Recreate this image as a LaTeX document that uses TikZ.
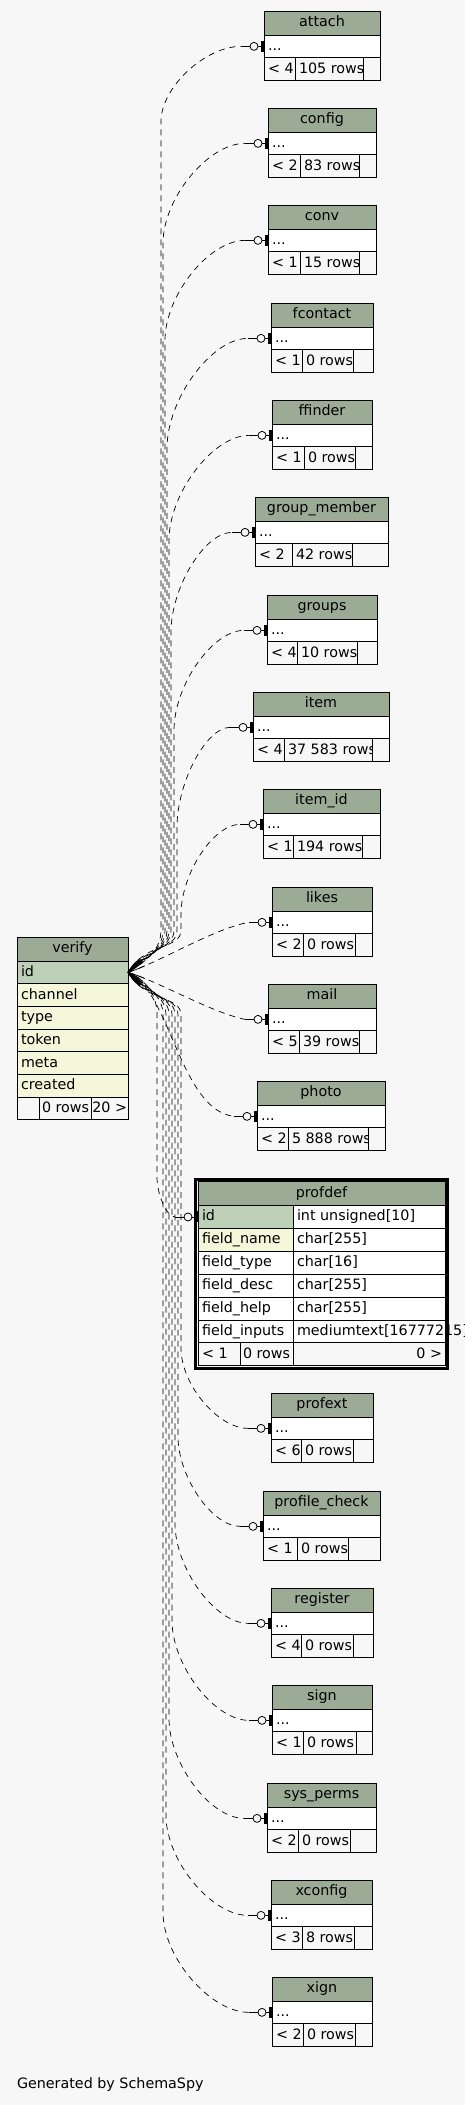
\documentclass[tikz,border=0pt]{standalone}
\usepackage{fontspec}
\setmainfont{DejaVu Sans}
\usetikzlibrary{calc}
\definecolor{bgcol}{HTML}{F7F7F7}
\definecolor{headcol}{HTML}{9BAB96}
\definecolor{keycol}{HTML}{BED1B8}
\definecolor{idxcol}{HTML}{F4F7DA}
\tikzstyle{tcell} = [draw, rectangle, line width=0.9pt, inner sep=0pt, outer sep=0pt, minimum height=22.7pt, anchor=north west]
\tikzstyle{headcell} = [tcell, fill=headcol, minimum height=24pt]
\tikzstyle{fieldcell} = [tcell, fill=white]
\tikzstyle{footcell} = [tcell, fill=bgcol]
\tikzstyle{txt} = [inner sep=0pt, outer sep=0pt, anchor=base west, font=\fontsize{14.3}{16}\selectfont]
\tikzstyle{rel} = [line width=0.7pt, dash pattern=on 6pt off 5pt]

% #1 name, #2 title, #3 left, #4 top, #5 right, #6 #7 footer splits, #8 #9 footer texts
\newcommand{\smalltable}[9]{%
  \node[headcell, minimum width={(#5-#3)*1pt}] (#1) at (#3,#4) {};
  \node[txt, anchor=base] (#1t) at ($(#1.center)+(0,3.5)$) {#2};
  \node[fieldcell, minimum width={(#5-#3)*1pt}] (#1r) at (#3,#4+24) {};
  \node[txt] (#1rt) at ($(#1r.west)+(4,4)$) {...};
  \node[footcell, minimum width={(#6-#3)*1pt}] (#1a) at (#3,#4+46.7) {};
  \node[footcell, minimum width={(#7-#6)*1pt}] (#1b) at (#6,#4+46.7) {};
  \node[footcell, minimum width={(#5-#7)*1pt}] (#1c) at (#7,#4+46.7) {};
  \begin{scope}
    \clip (#1a.south west) rectangle (#1a.north east);
    \node[txt] (#1at) at ($(#1a.west)+(4,4)$) {#8};
  \end{scope}
  \begin{scope}
    \clip (#1b.south west) rectangle (#1b.north east);
    \node[txt] (#1bt) at ($(#1b.west)+(4,4)$) {#9};
  \end{scope}}

% circle and bar where a link meets its table
\newcommand{\linkmark}[1]{%
  \draw[line width=0.8pt] (#1e) -- ($(#1r.west)+(-3,0)$);
  \draw[line width=0.8pt, fill=bgcol] ($(#1r.west)+(-10,0)$) circle (4pt);
  \fill ($(#1r.west)+(-3,-5.5)$) rectangle ($(#1r.west)+(0,5.5)$);}

% #1 table, #2 x of the long run, #3 height of the last bend, #4 style
\newcommand{\uppath}[4]{\draw[#4] (vid.east) .. controls +(18,150-#2) and (#2,950) .. (#2,930) -- ($(#2,0 |- #1e)+(0,#3)$) .. controls +(0,-0.45*#3) and ($(#1e)!0.45!(#2,0 |- #1e)$) .. (#1e);}
\newcommand{\downpath}[4]{\draw[#4] (vid.east) .. controls +(18,#2-150) and (#2,995) .. (#2,1015) -- ($(#2,0 |- #1e)+(0,-#3)$) .. controls +(0,0.45*#3) and ($(#1e)!0.45!(#2,0 |- #1e)$) .. (#1e);}
\newcommand{\midpath}[4]{\draw[#4] (vid.east) .. controls (#2) and (#3) .. (#1e);}

\newcommand{\uprel}[3]{%
  \coordinate (#1e) at ($(#1r.west)+(-23,0)$);
  \uppath{#1}{#2}{#3}{rel, dash phase={#2pt}}
  \begin{scope}
    \clip (vid.east) circle (18pt);
    \uppath{#1}{#2}{#3}{line width=0.7pt}
  \end{scope}
  \linkmark{#1}}
\newcommand{\downrel}[3]{%
  \coordinate (#1e) at ($(#1r.west)+(-23,0)$);
  \downpath{#1}{#2}{#3}{rel, dash phase={#2pt}}
  \begin{scope}
    \clip (vid.east) circle (18pt);
    \downpath{#1}{#2}{#3}{line width=0.7pt}
  \end{scope}
  \linkmark{#1}}
\newcommand{\midrel}[3]{%
  \coordinate (#1e) at ($(#1r.west)+(-23,0)$);
  \midpath{#1}{#2}{#3}{rel}
  \begin{scope}
    \clip (vid.east) circle (18pt);
    \midpath{#1}{#2}{#3}{line width=0.7pt}
  \end{scope}
  \linkmark{#1}}

\begin{document}
\begin{tikzpicture}[x=1pt,y=-1pt]
    \useasboundingbox (0,0) rectangle (465,2105);
    \fill[bgcol] (0,0) rectangle (465,2105);

    % verify
    \node[headcell, minimum width=111pt] (verify) at (17,937) {};
    \node[txt, anchor=base] (verifyt) at ($(verify.center)+(0,3.5)$) {verify};
    \node[fieldcell, fill=keycol, minimum width=111pt] (vid) at (17,961) {};
    \node[fieldcell, fill=idxcol, minimum width=111pt] (vchannel) at (17,983.7) {};
    \node[fieldcell, fill=idxcol, minimum width=111pt] (vtype) at (17,1006.4) {};
    \node[fieldcell, fill=idxcol, minimum width=111pt] (vtoken) at (17,1029.1) {};
    \node[fieldcell, fill=idxcol, minimum width=111pt] (vmeta) at (17,1051.8) {};
    \node[fieldcell, fill=idxcol, minimum width=111pt] (vcreated) at (17,1074.5) {};
    \node[footcell, minimum width=22pt] (vfa) at (17,1097.2) {};
    \node[footcell, minimum width=52pt] (vfb) at (39,1097.2) {};
    \node[footcell, minimum width=37pt] (vfc) at (91,1097.2) {};
    \node[txt] (vidt) at ($(vid.west)+(4,4)$) {id};
    \node[txt] (vchannelt) at ($(vchannel.west)+(4,4)$) {channel};
    \node[txt] (vtypet) at ($(vtype.west)+(4,4)$) {type};
    \node[txt] (vtokent) at ($(vtoken.west)+(4,4)$) {token};
    \node[txt] (vmetat) at ($(vmeta.west)+(4,4)$) {meta};
    \node[txt] (vcreatedt) at ($(vcreated.west)+(4,4)$) {created};
    \node[txt] (vfbt) at ($(vfb.west)+(3,4)$) {0 rows};
    \node[txt, anchor=base east] (vfct) at ($(vfc.east)+(-1,4)$) {20 >};

    % profdef
    \node[headcell, minimum width=247pt] (profdef) at (198,1181.5) {};
    \node[txt, anchor=base] (profdeft) at ($(profdef.center)+(0,3.5)$) {profdef};
    \node[fieldcell, fill=keycol, minimum width=95pt, minimum height=22.9pt] (profdefr) at (198,1205.5) {};
    \node[fieldcell, fill=idxcol, minimum width=95pt, minimum height=22.9pt] (pname) at (198,1228.4) {};
    \node[fieldcell, minimum width=95pt, minimum height=22.9pt] (ptype) at (198,1251.3) {};
    \node[fieldcell, minimum width=95pt, minimum height=22.9pt] (pdesc) at (198,1274.2) {};
    \node[fieldcell, minimum width=95pt, minimum height=22.9pt] (phelp) at (198,1297.1) {};
    \node[fieldcell, minimum width=95pt, minimum height=22.9pt] (pinputs) at (198,1320) {};
    \node[fieldcell, minimum width=152pt, minimum height=22.9pt] (pidv) at (293,1205.5) {};
    \node[fieldcell, minimum width=152pt, minimum height=22.9pt] (pnamev) at (293,1228.4) {};
    \node[fieldcell, minimum width=152pt, minimum height=22.9pt] (ptypev) at (293,1251.3) {};
    \node[fieldcell, minimum width=152pt, minimum height=22.9pt] (pdescv) at (293,1274.2) {};
    \node[fieldcell, minimum width=152pt, minimum height=22.9pt] (phelpv) at (293,1297.1) {};
    \node[fieldcell, minimum width=152pt, minimum height=22.9pt] (pinputsv) at (293,1320) {};
    \node[footcell, minimum width=42pt, minimum height=22.9pt] (pfa) at (198,1342.9) {};
    \node[footcell, minimum width=53pt, minimum height=22.9pt] (pfb) at (240,1342.9) {};
    \node[footcell, minimum width=152pt, minimum height=22.9pt] (pfc) at (293,1342.9) {};
    \node[txt] (pidt) at ($(profdefr.west)+(4,4)$) {id};
    \node[txt] (pnamet) at ($(pname.west)+(4,4)$) {field\_name};
    \node[txt] (ptypet) at ($(ptype.west)+(4,4)$) {field\_type};
    \node[txt] (pdesct) at ($(pdesc.west)+(4,4)$) {field\_desc};
    \node[txt] (phelpt) at ($(phelp.west)+(4,4)$) {field\_help};
    \node[txt] (pinputst) at ($(pinputs.west)+(4,4)$) {field\_inputs};
    \node[txt] (pidvt) at ($(pidv.west)+(4,4)$) {int unsigned[10]};
    \node[txt] (pnamevt) at ($(pnamev.west)+(4,4)$) {char[255]};
    \node[txt] (ptypevt) at ($(ptypev.west)+(4,4)$) {char[16]};
    \node[txt] (pdescvt) at ($(pdescv.west)+(4,4)$) {char[255]};
    \node[txt] (phelpvt) at ($(phelpv.west)+(4,4)$) {char[255]};
    \node[txt] (pinputsvt) at ($(pinputsv.west)+(4,4)$) {mediumtext[16777215]};
    \node[txt] (pfat) at ($(pfa.west)+(4,4)$) {< 1};
    \node[txt] (pfbt) at ($(pfb.west)+(3,4)$) {0 rows};
    \node[txt, anchor=base east] (pfct) at ($(pfc.east)+(-3,4)$) {0 >};
    \draw[line width=2.6pt] (195.6,1179.6) rectangle (447.6,1368.2);

    % tables above
    \smalltable{attach}{attach}{264}{11}{380}{295}{363}{< 4}{105 rows}
    \smalltable{config}{config}{268}{108}{376}{300}{359}{< 2}{83 rows}
    \smalltable{conv}{conv}{268}{205}{376}{300}{359}{< 1}{15 rows}
    \smalltable{fcontact}{fcontact}{271}{303}{373}{302}{353}{< 1}{0 rows}
    \smalltable{ffinder}{ffinder}{272}{400}{372}{304}{355}{< 1}{0 rows}
    \smalltable{grpmember}{group\_member}{255}{497}{388}{292}{352}{< 2}{42 rows}
    \smalltable{groups}{groups}{267}{595}{377}{297}{357}{< 4}{10 rows}
    \smalltable{item}{item}{253}{692}{389}{284}{372}{< 4}{37 583 rows}
    \smalltable{itemid}{item\_id}{263}{789}{380}{293}{362}{< 1}{194 rows}
    \smalltable{likes}{likes}{272}{887}{372}{303}{355}{< 2}{0 rows}
    \smalltable{mail}{mail}{268}{984}{376}{299}{359}{< 5}{39 rows}
    \smalltable{photo}{photo}{257}{1081}{385}{288}{368}{< 2}{5 888 rows}
    % tables below
    \smalltable{profext}{profext}{271}{1393}{373}{301}{353}{< 6}{0 rows}
    \smalltable{profcheck}{profile\_check}{263}{1491}{380}{297}{348}{< 1}{0 rows}
    \smalltable{register}{register}{271}{1588}{373}{301}{353}{< 4}{0 rows}
    \smalltable{sign}{sign}{272}{1685}{372}{303}{356}{< 1}{0 rows}
    \smalltable{sysperms}{sys\_perms}{267}{1783}{376}{298}{350}{< 2}{0 rows}
    \smalltable{xconfig}{xconfig}{271}{1880}{372}{302}{354}{< 3}{8 rows}
    \smalltable{xign}{xign}{272}{1977}{372}{303}{355}{< 2}{0 rows}

    % links to verify.id
    \uprel{attach}{161}{75}
    \uprel{config}{163}{100}
    \uprel{conv}{165}{100}
    \uprel{fcontact}{167}{110}
    \uprel{ffinder}{169}{105}
    \uprel{grpmember}{171}{100}
    \uprel{groups}{174}{100}
    \uprel{item}{177}{100}
    \uprel{itemid}{181}{90}
    \midrel{likes}{160,962}{215,928}
    \midrel{mail}{160,982}{210,1012}
    \midrel{photo}{170,990}{180,1110}
    \downrel{profdef}{157}{40}
    \downrel{profext}{181}{80}
    \downrel{profcheck}{178}{90}
    \downrel{register}{175}{100}
    \downrel{sign}{172}{100}
    \downrel{sysperms}{169}{100}
    \downrel{xconfig}{166}{100}
    \downrel{xign}{163}{100}

    \node[txt] (credit) at (17,2088) {Generated by SchemaSpy};
\end{tikzpicture}
\end{document}
